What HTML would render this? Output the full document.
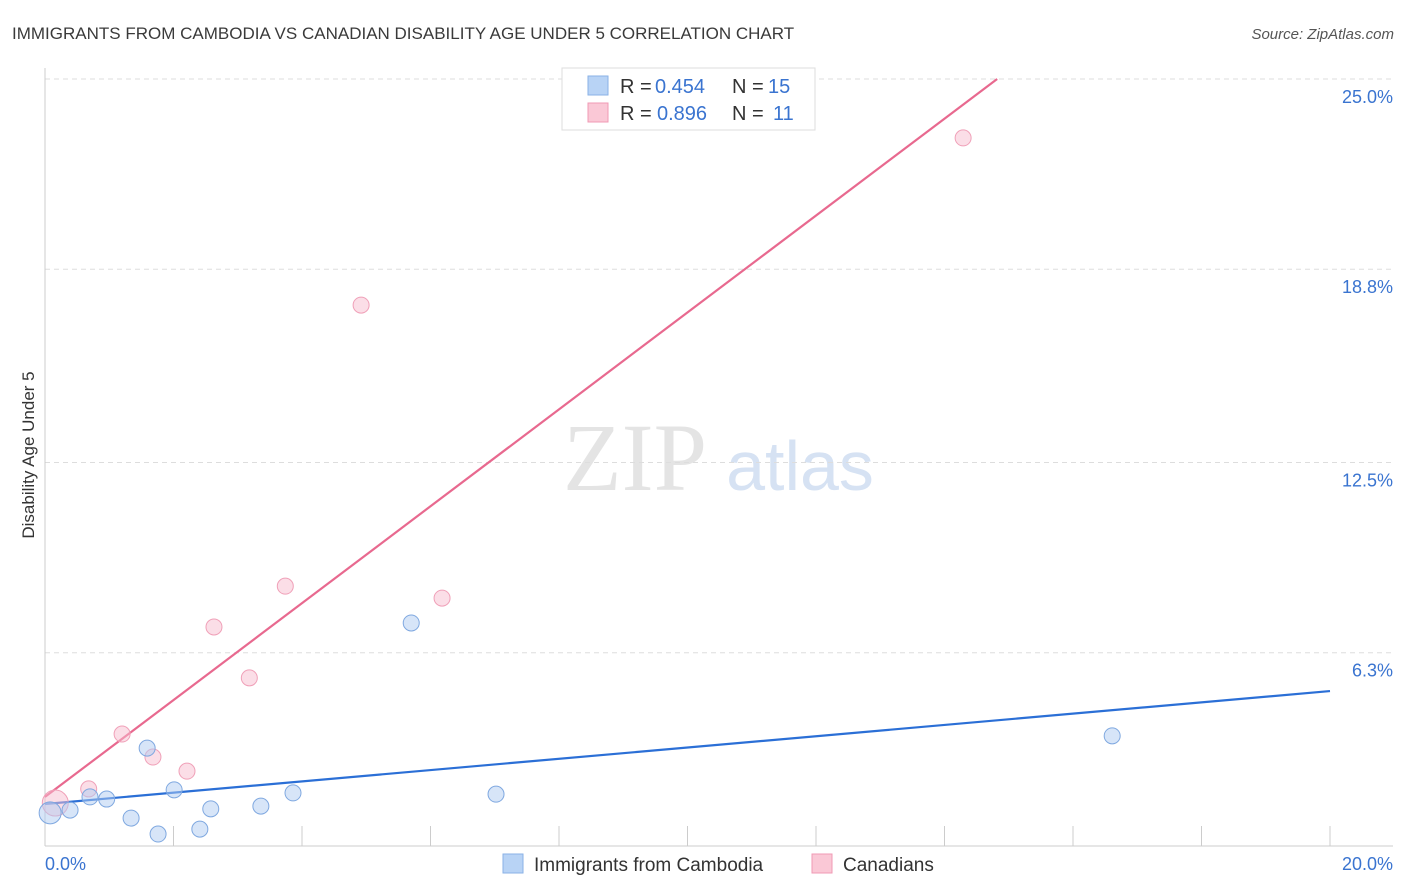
<!DOCTYPE html>
<html><head><meta charset="utf-8"><style>
body{margin:0;background:#fff;font-family:"Liberation Sans",sans-serif}
svg{display:block}
</style></head><body>
<svg id="chart" width="1406" height="892">
<text x="12" y="39" font-size="17" fill="#3a3a3a">IMMIGRANTS FROM CAMBODIA VS CANADIAN DISABILITY AGE UNDER 5 CORRELATION CHART</text>
<text x="1394" y="39" font-size="15" fill="#555" font-style="italic" text-anchor="end">Source: ZipAtlas.com</text>
<text x="635" y="490" font-size="96" fill="#e4e4e4" font-family="Liberation Serif,serif" text-anchor="middle">ZIP</text>
<text x="800" y="490" font-size="70" fill="#d6e2f3" text-anchor="middle">atlas</text>
<text transform="translate(34,455) rotate(-90)" font-size="17" fill="#333" text-anchor="middle">Disability Age Under 5</text>
<g id="grid"></g><g id="axes"></g><g id="lines"></g><g id="points"></g>
<g>
<rect x="562" y="68" width="253" height="62" fill="#fff" stroke="#ddd"/>
<rect x="588" y="76" width="20" height="19" fill="#b8d3f5" stroke="#8ab2e6"/>
<rect x="588" y="103" width="20" height="19" fill="#fac8d6" stroke="#f09ab4"/>
<text x="620" y="93" font-size="20" fill="#333">R = <tspan x="655" fill="#3a74d0">0.454</tspan><tspan x="732">N = </tspan><tspan x="768" fill="#3a74d0">15</tspan></text>
<text x="620" y="120" font-size="20" fill="#333">R = <tspan x="657" fill="#3a74d0">0.896</tspan><tspan x="732">N = </tspan><tspan x="773" fill="#3a74d0">11</tspan></text>
</g>
<g>
<rect x="503" y="854" width="20" height="19" fill="#b8d3f5" stroke="#8ab2e6"/>
<text x="534" y="871" font-size="19" fill="#333">Immigrants from Cambodia</text>
<rect x="812" y="854" width="20" height="19" fill="#fac8d6" stroke="#f09ab4"/>
<text x="843" y="871" font-size="19" fill="#333">Canadians</text>
</g>
</svg>
<script>
const yTicks=[6.3,12.5,18.8,25.0];
const yTickLabels=["6.3%","12.5%","18.8%","25.0%"];
const xTickLabels=["0.0%","20.0%"];
const blueX=[0.08,0.39,0.70,0.96,1.34,1.59,1.76,2.01,2.41,2.58,3.36,3.86,5.70,7.02,16.61];
const blueY=[1.08,1.17,1.60,1.53,0.91,3.19,0.39,1.83,0.55,1.21,1.30,1.73,7.27,1.69,3.59];
const pinkX=[0.16,0.68,1.20,1.68,2.21,2.63,3.18,3.74,4.92,6.18,14.29];
const pinkY=[1.40,1.86,3.65,2.90,2.44,7.14,5.48,8.47,17.63,8.08,23.08];
const blueLine=[1.37,5.05];
const pinkLine=[1.60,1.579];
const NS="http://www.w3.org/2000/svg";
const sx=v=>45+v/20*1285, sy=v=>846-v*30.68;
function mk(p,t,a){const e=document.createElementNS(NS,t);for(const k in a)e.setAttribute(k,a[k]);document.getElementById(p).appendChild(e);return e;}
yTicks.forEach((t,i)=>{
 const g=mk('grid','line',{x1:45,x2:1393,y1:sy(t),y2:sy(t),stroke:'#ddd','stroke-dasharray':'5,4'});
 
 
 const l=mk('axes','text',{x:1393,y:sy(t)+24,'font-size':18,fill:'#3a74d0','text-anchor':'end'});
 l.textContent=yTickLabels[i];
 
 
});
const ax=mk('axes','line',{x1:45,x2:1393,y1:846,y2:846,stroke:'#ccc'});


const ay=mk('axes','line',{x1:45,x2:45,y1:68,y2:846,stroke:'#ccc'});


for(let i=1;i<=10;i++){const x=sx(i*2);const t=mk('axes','line',{x1:x,x2:x,y1:826,y2:846,stroke:'#ccc'});
 
 }
[[0,'start',45],[20,'end',1393]].forEach((d,i)=>{const t=mk('axes','text',{x:d[2],y:870,'font-size':18,fill:'#3a74d0','text-anchor':d[1]});
 t.textContent=xTickLabels[i];
 
 });
const bl=mk('lines','line',{x1:sx(0),y1:sy(blueLine[0]),x2:sx(20),y2:sy(blueLine[1]),stroke:'#2b6fd6','stroke-width':2.2});


const xe=(25-pinkLine[0])/pinkLine[1];
const pl=mk('lines','line',{x1:sx(0),y1:sy(pinkLine[0]),x2:sx(xe),y2:sy(25),stroke:'#e8698f','stroke-width':2.2});


pinkX.forEach((x,i)=>{const c=mk('points','circle',{cx:sx(x),cy:sy(pinkY[i]),r:i==0?13:8,fill:'rgba(248,190,208,0.5)',stroke:'#f0a0b8'});
 
 });
blueX.forEach((x,i)=>{const c=mk('points','circle',{cx:sx(x),cy:sy(blueY[i]),r:i==0?11:8,fill:'rgba(176,204,242,0.5)',stroke:'#7fa8e0'});
 
 });
</script>
</body></html>
